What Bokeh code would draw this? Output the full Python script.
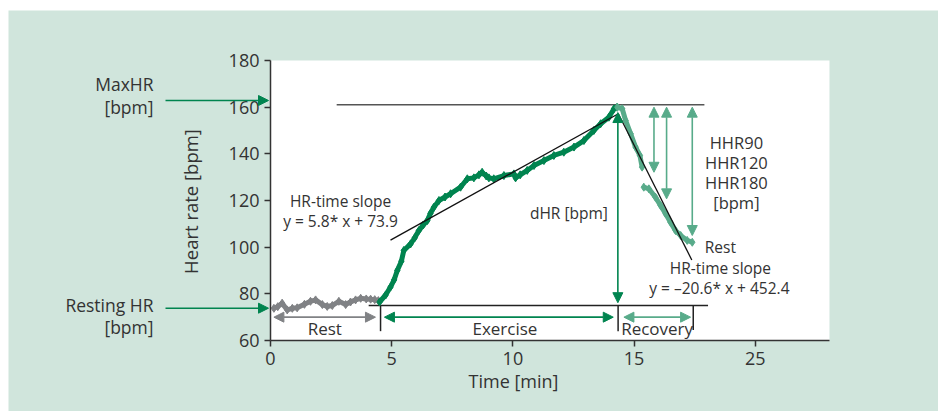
import math
from bokeh.plotting import figure
from bokeh.models import Range1d, FixedTicker, Label, Arrow, NormalHead
from bokeh.embed import file_html
from bokeh.resources import INLINE

# ---------------- data ----------------
rest_t = [0.14, 0.30, 0.48, 0.69, 0.90, 1.10, 1.40, 1.65, 1.86, 2.14, 2.34, 2.55,
          2.82, 3.10, 3.30, 3.51, 3.72, 3.95, 4.13, 4.30, 4.45]
rest_hr = [73.8, 74.5, 76.0, 73.1, 73.8, 74.0, 75.5, 76.8, 77.4, 75.4, 74.6, 75.0,
           76.8, 75.4, 76.5, 77.4, 78.1, 77.8, 77.7, 77.5, 77.1]

ex_t = [4.50, 4.75, 4.95, 5.10, 5.23, 5.40, 5.50, 5.78, 5.95, 6.12, 6.30, 6.47, 6.60,
        6.74, 6.95, 7.20, 7.43, 7.84, 8.12, 8.39, 8.60, 8.73, 8.90, 9.01, 9.21, 9.63,
        10.04, 10.11, 10.30, 10.59, 10.87, 11.28, 11.69, 12.10, 12.52, 12.93, 13.34,
        13.62, 13.96, 14.17, 14.30]
ex_hr = [76.5, 79.5, 82.9, 86.0, 90.0, 94.0, 98.6, 101.4, 104.0, 107.1, 109.5, 111.4,
         114.5, 117.1, 120.0, 121.5, 122.9, 125.7, 129.3, 129.7, 131.0, 132.1, 130.5,
         129.7, 129.3, 130.7, 131.4, 129.7, 131.0, 132.9, 135.0, 137.1, 139.3, 140.7,
         142.9, 145.7, 150.0, 152.9, 155.7, 159.3, 160.0]

rec_t = [14.31, 14.51, 14.65, 14.86, 15.06, 15.24, 15.33, float("nan"), 15.40, 15.61,
         15.88, 16.09, 16.30, 16.50, 16.71, 16.92, 17.19, 17.40]
rec_hr = [160.0, 159.3, 154.3, 148.6, 142.9, 139.3, 134.3, float("nan"), 125.7, 125.0,
          121.4, 117.9, 114.3, 110.7, 107.1, 105.0, 102.9, 102.1]

slope_ex_t = [4.95, 14.35]
slope_ex_hr = [103.0, 157.2]
slope_rec_t = [14.35, 17.38]
slope_rec_hr = [157.2, 94.5]

max_hr_line_t = [2.73, 17.9]
max_hr_line_hr = [161.0, 161.0]
phase_line_t = [4.05, 18.05]
phase_line_hr = [75.0, 75.0]
phase_bounds_t = [4.54, 14.34, 17.44]
phase_bounds_top = [75.0, 75.0, 75.0]
phase_bounds_bottom = [64.0, 64.0, 64.5]

hhr_t = [15.82, 16.34, 17.40]
hhr_top = [160.0, 160.0, 160.0]
hhr_bottom = [132.1, 120.7, 105.0]

dhr_t = 14.33
dhr_top = 157.7
dhr_bottom = 76.2

x_min, x_max = 0.0, 23.06
y_min, y_max = 60.0, 180.0
y_ticks = [60, 80, 100, 120, 140, 160, 180]
x_tick_pos = [0, 5, 10, 15, 20]
x_tick_labels = ["0", "5", "10", "15", "25"]

# ---------------- geometry (pixels of the 938x411 page) ----------------
W, H = 938, 411
X0_PX, PX_PER_MIN = 270.0, 24.24      # where t=0 sits, pixels per minute
Y60_PX, PX_PER_BPM = 340.0, 2.3333    # where 60 bpm sits, pixels per bpm


def dx(px):
    return (px - X0_PX) / PX_PER_MIN


def dy(py):
    return y_min + (Y60_PX - py) / PX_PER_BPM


# ---------------- styling ----------------
BG = "#d0e5dc"
DARK = "#00844f"
LIGHT = "#58ab8a"
GRAY = "#808285"
TXT = "#333333"
AX = "#333333"
FONT = "Open Sans"

p = figure(width=W, height=H, output_backend="svg", toolbar_location=None,
           x_range=Range1d(dx(0), dx(W)), y_range=Range1d(dy(H), dy(0)),
           min_border=0)
p.border_fill_color = "white"
p.background_fill_color = "white"
p.outline_line_color = None
p.grid.visible = False

# green panel and white plotting area
p.quad(left=[dx(8)], right=[dx(W)], bottom=[dy(H)], top=[dy(10)],
       fill_color=BG, line_color=None)
p.quad(left=[x_min], right=[x_max], bottom=[y_min], top=[y_max],
       fill_color="white", line_color=None)

for ax in (p.xaxis[0], p.yaxis[0]):
    ax.axis_line_color = AX
    ax.axis_line_width = 1.5
    ax.major_tick_line_color = AX
    ax.major_tick_line_width = 1.5
    ax.major_tick_out = 6
    ax.major_tick_in = 0
    ax.minor_tick_line_color = None
    ax.major_label_text_font = FONT
    ax.major_label_text_font_size = "18px"
    ax.major_label_text_color = TXT

p.xaxis.fixed_location = y_min
p.yaxis.fixed_location = x_min
p.xaxis.bounds = (x_min, x_max)
p.yaxis.bounds = (y_min, y_max)
p.xaxis.ticker = FixedTicker(ticks=x_tick_pos)
p.xaxis.major_label_overrides = {pos: lab for pos, lab in zip(x_tick_pos, x_tick_labels)}
p.yaxis.ticker = FixedTicker(ticks=y_ticks)

# ---------------- reference lines ----------------
p.line(max_hr_line_t, max_hr_line_hr, line_color="#555555", line_width=1.5)
p.line(phase_line_t, phase_line_hr, line_color="#222222", line_width=1.5)
p.segment(x0=phase_bounds_t, y0=phase_bounds_top, x1=phase_bounds_t,
          y1=phase_bounds_bottom, line_color="#222222", line_width=1.5)

# ---------------- data traces ----------------
p.line(rest_t, rest_hr, line_color=GRAY, line_width=5, line_join="round")
p.scatter(rest_t, rest_hr, marker="diamond", size=8, color=GRAY)
p.line(ex_t, ex_hr, line_color=DARK, line_width=5, line_join="round")
p.scatter(ex_t, ex_hr, marker="diamond", size=8, color=DARK)
p.line(rec_t, rec_hr, line_color=LIGHT, line_width=5, line_join="round")
p.scatter(rec_t, rec_hr, marker="diamond", size=8, color=LIGHT)

p.line(slope_ex_t, slope_ex_hr, line_color="#111111", line_width=1.3)
p.line(slope_rec_t, slope_rec_hr, line_color="#111111", line_width=1.3)


def head(c):
    return NormalHead(size=10, fill_color=c, line_color=c, line_width=1)


def arrow(x0, y0, x1, y1, c, both=True):
    p.add_layout(Arrow(x_start=x0, y_start=y0, x_end=x1, y_end=y1,
                       line_color=c, line_width=1.6,
                       start=head(c) if both else None, end=head(c)))


arrow(dhr_t, dhr_top, dhr_t, dhr_bottom, DARK)
for t, top, bot in zip(hhr_t, hhr_top, hhr_bottom):
    arrow(t, top, t, bot, LIGHT)
arrow(0.14, 70, 4.33, 70, GRAY)
arrow(4.70, 70, 14.14, 70, DARK)
arrow(14.58, 70, 17.33, 70, LIGHT)
arrow(dx(165), dy(100), dx(268), dy(100), DARK, both=False)
arrow(dx(165), dy(307.7), dx(268), dy(307.7), DARK, both=False)


def label(x, y, text, size="15.5px", align="center", angle=0.0):
    p.add_layout(Label(x=x, y=y, text=text, text_font=FONT, text_font_size=size,
                       text_color=TXT, text_align=align, text_baseline="middle",
                       angle=angle))


label(dx(153), dy(83.3), "MaxHR", "17.5px", "right")
label(dx(153), dy(106.7), "[bpm]", "17.5px", "right")
label(dx(153), dy(304), "Resting HR", "17.5px", "right")
label(dx(153), dy(326.7), "[bpm]", "17.5px", "right")
label(dx(513), dy(380), "Time [min]", "18px")
label(dx(190), dy(201), "Heart rate [bpm]", "18.5px", angle=math.pi / 2)

label(2.24, 65.0, "Rest", "17px")
label(9.67, 65.0, "Exercise", "17px")
label(15.95, 65.0, "Recovery", "17px")

label(2.89, 119.7, "HR-time slope")
label(2.89, 111.1, "y = 5.8* x + 73.9")
label(13.92, 114.6, "dHR [bpm]", align="right")

label(19.22, 144.8, "HHR90", "16.5px")
label(19.22, 136.2, "HHR120", "16.5px")
label(19.22, 127.6, "HHR180", "16.5px")
label(19.22, 119.0, "[bpm]", "16.5px")

label(18.56, 100.0, "Rest")
label(18.56, 91.0, "HR-time slope")
label(18.52, 82.6, "y = \u201320.6* x + 452.4")

open("out.html", "w").write(file_html(p, INLINE))
